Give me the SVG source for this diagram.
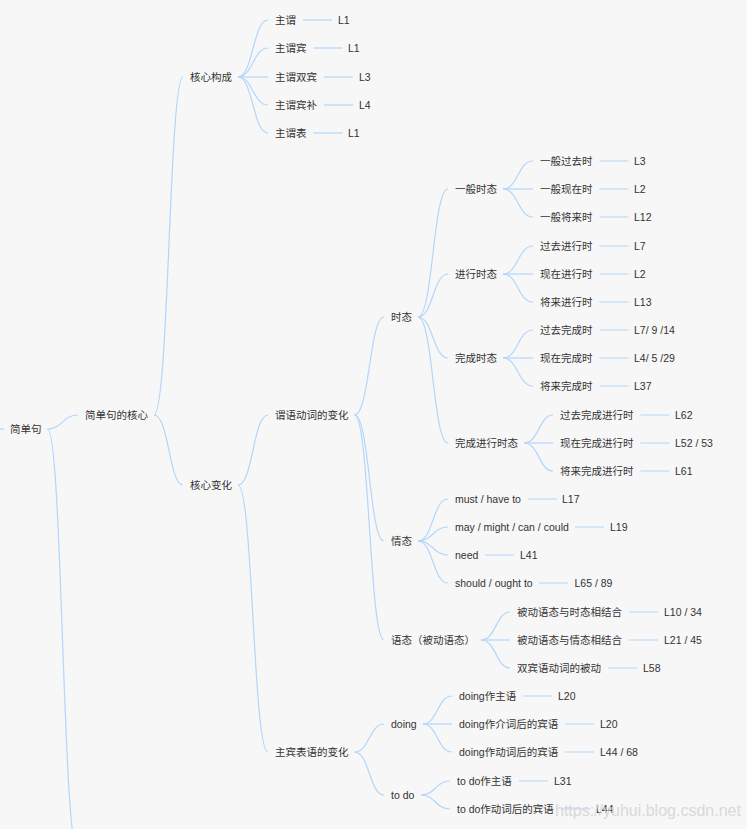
<svg xmlns="http://www.w3.org/2000/svg" width="747" height="829" viewBox="0 0 747 829">
<style>
text{font-family:"Liberation Sans","Noto Sans CJK SC",Arial,sans-serif;font-size:10.5px;fill:#333}
.c{fill:none;stroke:#b3d6fb;stroke-width:1.2}
.wm{font-size:16px;fill:#d6d6d6;opacity:0.9}
</style>
<rect width="747" height="829" fill="#f7f7f7"/>
<g id="connectors">
<path class="c" d="M0 429 H4"/>
<path class="c" d="M47.5 429 C62.5 429 62.5 415 78 415"/>
<path class="c" d="M47.5 429 C62.5 429 62.5 853 78 853"/>
<path class="c" d="M154 415 C169 415 169 77 183 77"/>
<path class="c" d="M154 415 C169 415 169 485 183 485"/>
<path class="c" d="M238 77 C253 77 253 20 268 20"/>
<path class="c" d="M238 77 C253 77 253 48 268 48"/>
<path class="c" d="M238 77 H268"/>
<path class="c" d="M238 77 C253 77 253 105 268 105"/>
<path class="c" d="M238 77 C253 77 253 133 268 133"/>
<path class="c" d="M303 20 H332"/>
<path class="c" d="M313.5 48 H342.5"/>
<path class="c" d="M324 77 H353"/>
<path class="c" d="M324 105 H353"/>
<path class="c" d="M313.5 133 H342.5"/>
<path class="c" d="M238 485 C253 485 253 415 268 415"/>
<path class="c" d="M238 485 C253 485 253 752 268 752"/>
<path class="c" d="M354.5 415 C369.5 415 369.5 317 384 317"/>
<path class="c" d="M354.5 415 C369.5 415 369.5 541 384 541"/>
<path class="c" d="M354.5 415 C369.5 415 369.5 640 384 640"/>
<path class="c" d="M418 317 C433 317 433 189 448 189"/>
<path class="c" d="M418 317 C433 317 433 274 448 274"/>
<path class="c" d="M418 317 C433 317 433 358 448 358"/>
<path class="c" d="M418 317 C433 317 433 443 448 443"/>
<path class="c" d="M503 189 C518 189 518 161 533 161"/>
<path class="c" d="M503 189 H533"/>
<path class="c" d="M503 189 C518 189 518 217 533 217"/>
<path class="c" d="M503 274 C518 274 518 246 533 246"/>
<path class="c" d="M503 274 H533"/>
<path class="c" d="M503 274 C518 274 518 302 533 302"/>
<path class="c" d="M503 358 C518 358 518 330 533 330"/>
<path class="c" d="M503 358 H533"/>
<path class="c" d="M503 358 C518 358 518 386 533 386"/>
<path class="c" d="M599.5 161 H628.5 M599.5 189 H628.5 M599.5 217 H628.5 M599.5 246 H628.5 M599.5 274 H628.5 M599.5 302 H628.5 M599.5 330 H628.5 M599.5 358 H628.5 M599.5 386 H628.5"/>
<path class="c" d="M524 443 C539 443 539 415 553 415"/>
<path class="c" d="M524 443 H553"/>
<path class="c" d="M524 443 C539 443 539 471 553 471"/>
<path class="c" d="M640.5 415 H669.5 M640.5 443 H669.5 M640.5 471 H669.5"/>
<path class="c" d="M418 541 C433 541 433 499 448 499"/>
<path class="c" d="M418 541 C433 541 433 527 448 527"/>
<path class="c" d="M418 541 C433 541 433 555 448 555"/>
<path class="c" d="M418 541 C433 541 433 583 448 583"/>
<path class="c" d="M528 499 H557 M575 527 H604 M485 555 H514 M539 583 H568"/>
<path class="c" d="M481 640 C496 640 496 612 510 612"/>
<path class="c" d="M481 640 H510"/>
<path class="c" d="M481 640 C496 640 496 668 510 668"/>
<path class="c" d="M629 612 H658 M629 640 H658 M608 668 H637"/>
<path class="c" d="M354.5 752 C369.5 752 369.5 724 384 724"/>
<path class="c" d="M354.5 752 C369.5 752 369.5 795 384 795"/>
<path class="c" d="M423 724 C437.5 724 437.5 696 452 696"/>
<path class="c" d="M423 724 H452"/>
<path class="c" d="M423 724 C437.5 724 437.5 752 452 752"/>
<path class="c" d="M523 696 H552 M565 724 H594 M565 752 H594"/>
<path class="c" d="M421 795 C435.5 795 435.5 781 450 781"/>
<path class="c" d="M421 795 C435.5 795 435.5 809 450 809"/>
<path class="c" d="M519 781 H548 M561 809 H590"/>
</g>
<g id="n-root"><text x="10" y="432.8">简单句</text></g>
<g id="n-core"><text x="85" y="418.8">简单句的核心</text></g>
<g id="n-gc"><text x="190" y="80.8">核心构成</text></g>
<g id="n-gc1"><text x="275" y="23.8">主谓</text><text x="338" y="23.8">L1</text></g>
<g id="n-gc2"><text x="275" y="51.8">主谓宾</text><text x="348" y="51.8">L1</text></g>
<g id="n-gc3"><text x="275" y="80.8">主谓双宾</text><text x="359" y="80.8">L3</text></g>
<g id="n-gc4"><text x="275" y="108.8">主谓宾补</text><text x="359" y="108.8">L4</text></g>
<g id="n-gc5"><text x="275" y="136.8">主谓表</text><text x="348" y="136.8">L1</text></g>
<g id="n-bh"><text x="190" y="488.8">核心变化</text></g>
<g id="n-wy"><text x="275" y="418.8">谓语动词的变化</text></g>
<g id="n-st"><text x="391" y="320.8">时态</text></g>
<g id="n-yb"><text x="455" y="192.8">一般时态</text></g>
<g id="n-yb1"><text x="540" y="164.8">一般过去时</text><text x="634" y="164.8">L3</text></g>
<g id="n-yb2"><text x="540" y="192.8">一般现在时</text><text x="634" y="192.8">L2</text></g>
<g id="n-yb3"><text x="540" y="220.8">一般将来时</text><text x="634" y="220.8">L12</text></g>
<g id="n-jx"><text x="455" y="277.8">进行时态</text></g>
<g id="n-jx1"><text x="540" y="249.8">过去进行时</text><text x="634" y="249.8">L7</text></g>
<g id="n-jx2"><text x="540" y="277.8">现在进行时</text><text x="634" y="277.8">L2</text></g>
<g id="n-jx3"><text x="540" y="305.8">将来进行时</text><text x="634" y="305.8">L13</text></g>
<g id="n-wc"><text x="455" y="361.8">完成时态</text></g>
<g id="n-wc1"><text x="540" y="333.8">过去完成时</text><text x="634" y="333.8">L7/ 9 /14</text></g>
<g id="n-wc2"><text x="540" y="361.8">现在完成时</text><text x="634" y="361.8">L4/ 5 /29</text></g>
<g id="n-wc3"><text x="540" y="389.8">将来完成时</text><text x="634" y="389.8">L37</text></g>
<g id="n-wj"><text x="455" y="446.8">完成进行时态</text></g>
<g id="n-wj1"><text x="560" y="418.8">过去完成进行时</text><text x="675" y="418.8">L62</text></g>
<g id="n-wj2"><text x="560" y="446.8">现在完成进行时</text><text x="675" y="446.8">L52 / 53</text></g>
<g id="n-wj3"><text x="560" y="474.8">将来完成进行时</text><text x="675" y="474.8">L61</text></g>
<g id="n-qt"><text x="391" y="544.8">情态</text></g>
<g id="n-qt1"><text x="455" y="502.8">must / have to</text><text x="562" y="502.8">L17</text></g>
<g id="n-qt2"><text x="455" y="530.8">may / might / can / could</text><text x="610" y="530.8">L19</text></g>
<g id="n-qt3"><text x="455" y="558.8">need</text><text x="520" y="558.8">L41</text></g>
<g id="n-qt4"><text x="455" y="586.8">should / ought to</text><text x="574.5" y="586.8">L65 / 89</text></g>
<g id="n-yt"><text x="391" y="643.8">语态（被动语态）</text></g>
<g id="n-yt1"><text x="517" y="615.8">被动语态与时态相结合</text><text x="664" y="615.8">L10 / 34</text></g>
<g id="n-yt2"><text x="517" y="643.8">被动语态与情态相结合</text><text x="664" y="643.8">L21 / 45</text></g>
<g id="n-yt3"><text x="517" y="671.8">双宾语动词的被动</text><text x="643" y="671.8">L58</text></g>
<g id="n-zb"><text x="275" y="755.8">主宾表语的变化</text></g>
<g id="n-doing"><text x="391" y="727.8">doing</text></g>
<g id="n-d1"><text x="459" y="699.8">doing作主语</text><text x="558" y="699.8">L20</text></g>
<g id="n-d2"><text x="459" y="727.8">doing作介词后的宾语</text><text x="600" y="727.8">L20</text></g>
<g id="n-d3"><text x="459" y="755.8">doing作动词后的宾语</text><text x="600" y="755.8">L44 / 68</text></g>
<g id="n-todo"><text x="391" y="798.8">to do</text></g>
<g id="n-t1"><text x="457" y="784.8">to do作主语</text><text x="554" y="784.8">L31</text></g>
<g id="n-t2"><text x="457" y="812.8">to do作动词后的宾语</text><text x="596" y="812.8">L44</text></g>
<text class="wm" x="555" y="816">https://yuhui.blog.csdn.net</text>
</svg>
